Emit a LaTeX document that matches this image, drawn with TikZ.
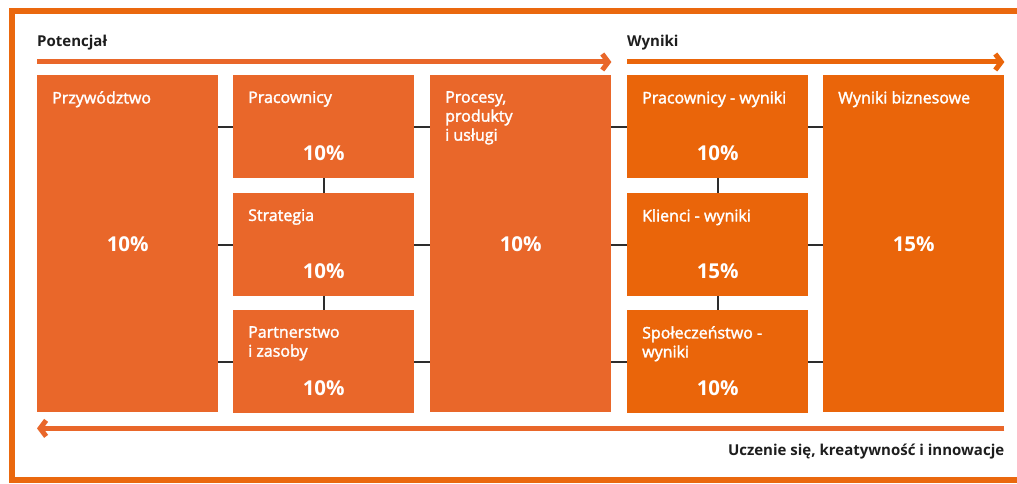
\documentclass[tikz,border=0pt]{standalone}
\usepackage{fontspec}
\setmainfont{Open Sans}
\newfontfamily\semifont{Open Sans}[FakeBold=2]
\usetikzlibrary{arrows.meta}
\definecolor{potc}{RGB}{233,103,42}
\definecolor{wync}{RGB}{234,101,10}
\definecolor{framec}{RGB}{234,104,14}
\definecolor{jointc}{RGB}{45,45,45}
\definecolor{headc}{RGB}{30,30,30}
\tikzset{
  box/.style={inner sep=0pt, minimum width=181pt, anchor=north west},
  tall/.style={box, minimum height=337pt},
  small/.style={box, minimum height=103pt},
  title/.style={anchor=north west, inner sep=0pt, text=white, align=left,
    font=\semifont\fontsize{16}{19}\selectfont},
  pct/.style={inner sep=0pt, text=white, font=\fontsize{20.5}{22}\selectfont\bfseries},
  head/.style={inner sep=0pt, text=headc, font=\fontsize{15}{17}\selectfont\bfseries},
  joint/.style={draw=jointc, line width=1.8pt},
  flow/.style={line width=5pt, -{Straight Barb[length=6pt,width=16pt]}},
}
\begin{document}
\begin{tikzpicture}[x=1pt,y=-1pt]
\useasboundingbox (0,0) rectangle (1017,484);
\fill[white] (0,0) rectangle (1017,484);
\draw[framec, line width=6pt] (11.5,11.5) rectangle (1040,480);
% boxes
\node[tall, fill=potc] (przyw) at (37,75) {};
\node[small, fill=potc] (prac) at (233,75) {};
\node[small, fill=potc] (strat) at (233,193) {};
\node[small, fill=potc] (partn) at (233,310) {};
\node[tall, fill=potc] (proc) at (430,75) {};
\node[small, fill=wync] (pracw) at (627,75) {};
\node[small, fill=wync] (klien) at (627,193) {};
\node[small, fill=wync] (spol) at (627,310) {};
\node[tall, fill=wync] (bizn) at (823,75) {};
% titles
\node[title] (przywT) at ([shift={(15,16)}]przyw.north west) {Przywództwo};
\node[title] (pracT) at ([shift={(15,16)}]prac.north west) {Pracownicy};
\node[title] (stratT) at ([shift={(15,16)}]strat.north west) {Strategia};
\node[title] (partnT) at ([shift={(15,16)}]partn.north west) {Partnerstwo\\i zasoby};
\node[title] (procT) at ([shift={(15,16)}]proc.north west) {Procesy,\\produkty\\i usługi};
\node[title] (pracwT) at ([shift={(15,16)}]pracw.north west) {Pracownicy - wyniki};
\node[title] (klienT) at ([shift={(15,16)}]klien.north west) {Klienci - wyniki};
\node[title] (spolT) at ([shift={(15,16)}]spol.north west) {Społeczeństwo -\\wyniki};
\node[title] (biznT) at ([shift={(15,16)}]bizn.north west) {Wyniki biznesowe};
% percentages
\node[pct] (przywP) at (przyw.center) {10\%};
\node[pct] (pracP) at ([yshift=-26pt]prac.center) {10\%};
\node[pct] (stratP) at ([yshift=-26pt]strat.center) {10\%};
\node[pct] (partnP) at ([yshift=-26pt]partn.center) {10\%};
\node[pct] (procP) at (proc.center) {10\%};
\node[pct] (pracwP) at ([yshift=-26pt]pracw.center) {10\%};
\node[pct] (klienP) at ([yshift=-26pt]klien.center) {15\%};
\node[pct] (spolP) at ([yshift=-26pt]spol.center) {10\%};
\node[pct] (biznP) at (bizn.center) {15\%};
% joints
\draw[joint] (przyw.east |- prac.west) -- (prac.west);
\draw[joint] (przyw.east |- strat.west) -- (strat.west);
\draw[joint] (przyw.east |- partn.west) -- (partn.west);
\draw[joint] (prac.east) -- (proc.west |- prac.east);
\draw[joint] (strat.east) -- (proc.west |- strat.east);
\draw[joint] (partn.east) -- (proc.west |- partn.east);
\draw[joint] (proc.east |- pracw.west) -- (pracw.west);
\draw[joint] (proc.east |- klien.west) -- (klien.west);
\draw[joint] (proc.east |- spol.west) -- (spol.west);
\draw[joint] (pracw.east) -- (bizn.west |- pracw.east);
\draw[joint] (klien.east) -- (bizn.west |- klien.east);
\draw[joint] (spol.east) -- (bizn.west |- spol.east);
\draw[joint] (prac.south) -- (strat.north);
\draw[joint] (strat.south) -- (partn.north);
\draw[joint] (pracw.south) -- (klien.north);
\draw[joint] (klien.south) -- (spol.north);
% arrows
\coordinate (potA) at ([yshift=13pt]przyw.north west);
\coordinate (potB) at ([yshift=13pt]proc.north east);
\coordinate (wynA) at ([yshift=13pt]pracw.north west);
\coordinate (wynB) at ([yshift=13pt]bizn.north east);
\coordinate (uczA) at ([yshift=-16pt]bizn.south east);
\coordinate (uczB) at ([yshift=-16pt]przyw.south west);
\draw[flow, draw=potc] (potA) -- (potB);
\draw[flow, draw=wync] (wynA) -- (wynB);
\draw[flow, draw=potc] (uczA) -- (uczB);
% headings
\node[head, anchor=base west] (potL) at ([yshift=28pt]przyw.north west) {Potencjał};
\node[head, anchor=base west] (wynL) at ([yshift=28pt]pracw.north west) {Wyniki};
\node[head, anchor=base east] (uczL) at ([yshift=-43pt]bizn.south east) {Uczenie się, kreatywność i innowacje};
\end{tikzpicture}
\end{document}
